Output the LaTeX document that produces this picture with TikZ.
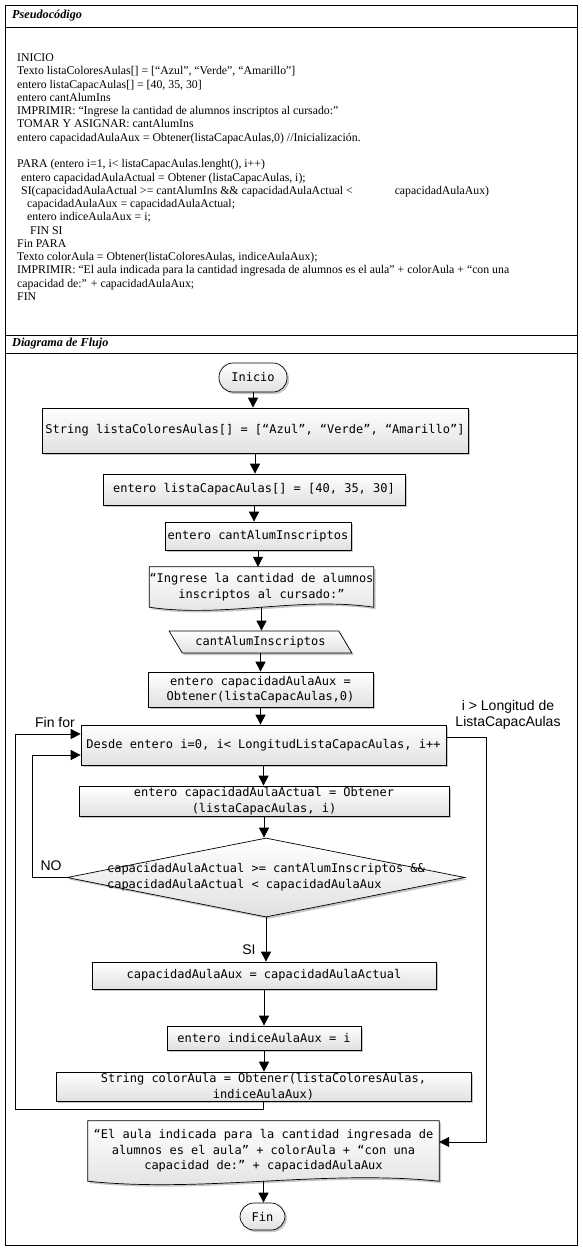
\documentclass[tikz,border=0pt]{standalone}
\usepackage{fontspec}
\setmainfont{Liberation Serif}
\setsansfont{Liberation Sans}
\setmonofont{DejaVu Sans Mono}
\usetikzlibrary{shapes.geometric,arrows.meta,shadows,backgrounds}

\tikzset{
  caja/.style={draw,rectangle,inner sep=0pt,line width=0.7pt,
    top color=white,bottom color=gray!24,
    drop shadow={shadow xshift=2pt,shadow yshift=-2pt,opacity=.45},
    font=\ttfamily\fontsize{12}{15.5}\selectfont,align=center},
  terminal/.style={caja,rounded corners=14pt},
  decision/.style={caja,diamond,aspect=5},
  entrada/.style={caja,trapezium,trapezium left angle=133,trapezium right angle=47,
    trapezium stretches=true},
  docu/.style={rectangle,inner sep=0pt,font=\ttfamily\fontsize{12}{15.5}\selectfont,align=center},
  docborde/.style={draw,line width=0.7pt,top color=white,bottom color=gray!24,
    drop shadow={shadow xshift=2pt,shadow yshift=-2pt,opacity=.45}},
  flecha/.style={line width=0.7pt,-{Triangle[length=10pt,width=10pt]}},
  etiq/.style={font=\sffamily\fontsize{14}{16}\selectfont,inner sep=0pt},
  titulo/.style={font=\bfseries\itshape\fontsize{12.2}{14}\selectfont,anchor=west,inner sep=0pt}
}

\begin{document}
\begin{tikzpicture}[x=1pt,y=-1pt]
  \useasboundingbox (0,0) rectangle (582,1250);

  % Tabla
  \draw[line width=0.7pt] (5,5) rectangle (577,1245);
  \draw[line width=0.7pt] (5,27) -- (577,27);
  \draw[line width=0.7pt] (5,335) -- (577,335);
  \draw[line width=0.7pt] (5,353) -- (577,353);
  \node (tpseudo) at (12,16) [titulo] {Pseudocódigo};
  \node (tdiag) at (12,344) [titulo] {Diagrama de Flujo};

  % Pseudocodigo
  \node (pseudo) at (17,53.5) [anchor=north west,inner sep=0pt,align=left,
    font=\fontsize{11.8}{13.28}\selectfont] {%
    INICIO\\
    Texto listaColoresAulas[] = [“Azul”, “Verde”, “Amarillo”]\\
    entero listaCapacAulas[] = [40, 35, 30]\\
    entero cantAlumIns\\
    IMPRIMIR: “Ingrese la cantidad de alumnos inscriptos al cursado:”\\
    TOMAR Y ASIGNAR: cantAlumIns\\
    entero capacidadAulaAux = Obtener(listaCapacAulas,0) //Inicialización.\\
    \strut\\
    PARA (entero i=1, i< listaCapacAulas.lenght(), i++)\\
    \hspace*{4pt}entero capacidadAulaActual = Obtener (listaCapacAulas, i);\\
    \hspace*{4pt}SI(capacidadAulaActual >= cantAlumIns \&\& capacidadAulaActual <\hspace*{42pt}capacidadAulaAux)\\
    \hspace*{10pt}capacidadAulaAux = capacidadAulaActual;\\
    \hspace*{10pt}entero indiceAulaAux = i;\\
    \hspace*{13pt}FIN SI\\
    Fin PARA\\
    Texto colorAula = Obtener(listaColoresAulas, indiceAulaAux);\\
    IMPRIMIR: “El aula indicada para la cantidad ingresada de alumnos es el aula” + colorAula + “con una\\
    capacidad de:” + capacidadAulaAux;\\
    FIN};

  % Nodos
  \node (inicio) at (253,377.5) [terminal,minimum width=68pt,minimum height=29pt] {Inicio};
  \node (lista1) at (255,430.5) [caja,minimum width=426pt,minimum height=45pt]
    {String listaColoresAulas[] = [“Azul”, “Verde”, “Amarillo”]};
  \node (lista2) at (254,489.5) [caja,minimum width=302pt,minimum height=31pt]
    {entero listaCapacAulas[] = [40, 35, 30]};
  \node (cant) at (258,536) [caja,minimum width=186pt,minimum height=28pt]
    {entero cantAlumInscriptos};
  \node (ingr) at (261.5,587) [docu,minimum width=224pt,minimum height=40pt]
    {“Ingrese la cantidad de alumnos\\inscriptos al cursado:”};
  \node (leer) at (260.5,642) [entrada,minimum width=183pt,minimum height=22pt]
    {cantAlumInscriptos};
  \node (aux) at (260.5,689.5) [caja,minimum width=225pt,minimum height=35pt]
    {entero capacidadAulaAux =\\Obtener(listaCapacAulas,0)};
  \node (desde) at (263.5,745) [caja,minimum width=365pt,minimum height=40pt]
    {Desde entero i=0, i< LongitudListaCapacAulas, i++};
  \node (actual) at (264,801) [caja,minimum width=370pt,minimum height=30pt]
    {entero capacidadAulaActual = Obtener\\(listaCapacAulas, i)};
  \node (cond) at (266,877.5) [decision,minimum width=398pt,minimum height=79pt]
    {\makebox[0pt]{\begin{tabular}{@{}l@{}}capacidadAulaActual >= cantAlumInscriptos \&\&\\
      capacidadAulaActual < capacidadAulaAux\end{tabular}}};
  \node (asig) at (264,975.5) [caja,minimum width=344pt,minimum height=27pt]
    {capacidadAulaAux = capacidadAulaActual};
  \node (indice) at (264,1038) [caja,minimum width=194pt,minimum height=24pt]
    {entero indiceAulaAux = i};
  \node (color) at (263.5,1086.5) [caja,minimum width=415pt,minimum height=29pt]
    {String colorAula = Obtener(listaColoresAulas,\\indiceAulaAux)};
  \node (salida) at (263.5,1151) [docu,minimum width=351pt,minimum height=60pt]
    {“El aula indicada para la cantidad ingresada de\\alumnos es el aula” + colorAula + “con una\\capacidad de:” + capacidadAulaAux};
  \node (fin) at (262.5,1216.5) [terminal,minimum width=45pt,minimum height=27pt] {Fin};

  % Documentos
  \begin{scope}[on background layer]
    \draw[docborde] (ingr.north west) -- (ingr.north east) -- (ingr.south east)
      .. controls +(-75,-11) and +(75,11) .. (ingr.south west) -- cycle;
    \draw[docborde] (salida.north west) -- (salida.north east) -- (salida.south east)
      .. controls +(-115,-12) and +(115,12) .. (salida.south west) -- cycle;
  \end{scope}

  % Etiquetas
  \node (lfin) at (55,722) [etiq] {Fin for};
  \node (lno) at (51,866) [etiq] {NO};
  \node (lsi) at (249,950) [etiq] {SI};
  \node (lmax) at (508,715) [etiq,align=center] {i > Longitud de\\ListaCapacAulas};

  % Flechas
  \draw[flecha] (inicio.south) -- (inicio.south |- lista1.north);
  \draw[flecha] (lista1.south) -- (lista1.south |- lista2.north);
  \draw[flecha] (lista2.south) -- (lista2.south |- cant.north);
  \draw[flecha] (cant.south) -- (cant.south |- ingr.north);
  \draw[flecha] (ingr.south) -- (ingr.south |- leer.north);
  \draw[flecha] (leer.south) -- (leer.south |- aux.north);
  \draw[flecha] (aux.south) -- (aux.south |- desde.north);
  \draw[flecha] (desde.south) -- (desde.south |- actual.north);
  \draw[flecha] (actual.south) -- (actual.south |- cond.north);
  \draw[flecha] (cond.south) -- (cond.south |- asig.north);
  \draw[flecha] (asig.south) -- (asig.south |- indice.north);
  \draw[flecha] (indice.south) -- (indice.south |- color.north);
  \draw[flecha] (salida.south) -- (salida.south |- fin.north);
  \draw[flecha] (color.south) -- ++(0,8) -| ++(-248,0) |- ([yshift=11pt]desde.west);
  \draw[flecha] (cond.west) -- ++(-34,0) |- ([yshift=-10pt]desde.west);
  \draw[flecha] ([yshift=8pt]desde.east) -- ++(40,0) |- ([yshift=9pt]salida.east);
\end{tikzpicture}
\end{document}
